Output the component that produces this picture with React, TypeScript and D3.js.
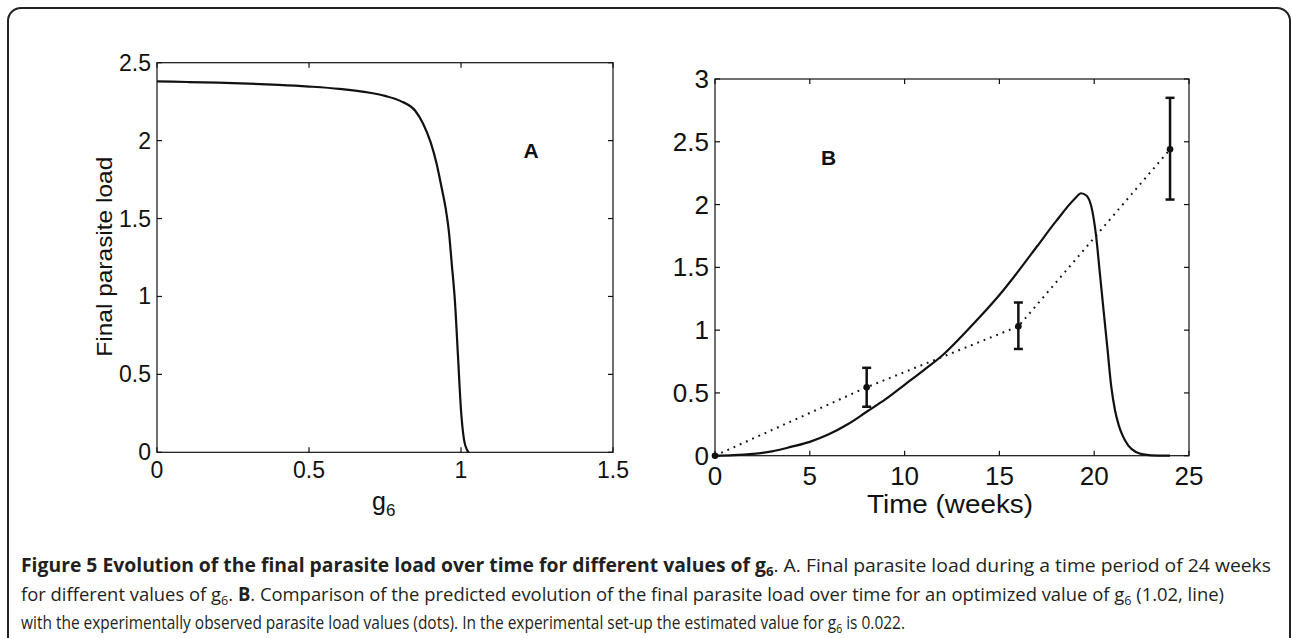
import React from "react";
import * as d3 from "d3";

// ---- Panel A data ----
const gValues = [0, 0.1, 0.2, 0.3, 0.4, 0.5, 0.6, 0.7, 0.75, 0.8, 0.85, 0.875, 0.9, 0.92, 0.935, 0.95, 0.96, 0.97, 0.98, 0.99, 1.0, 1.01, 1.02, 1.025];
const loadA = [2.38, 2.376, 2.372, 2.366, 2.358, 2.347, 2.332, 2.307, 2.287, 2.255, 2.19, 2.11, 1.99, 1.85, 1.71, 1.56, 1.42, 1.2, 0.97, 0.62, 0.27, 0.08, 0.015, 0];
const xTicksA = [0, 0.5, 1, 1.5];
const yTicksA = [0, 0.5, 1, 1.5, 2, 2.5];

// ---- Panel B data ----
const timeWeeks = [0, 1, 2, 3, 4, 5, 6, 7, 8, 9, 10, 11, 12, 13, 14, 15, 16, 17, 18, 19, 19.3, 19.6, 19.9, 20.1, 20.3, 20.5, 20.7, 20.9, 21.1, 21.3, 21.5, 21.8, 22.2, 22.6, 23, 24];
const loadB = [0, 0.004, 0.015, 0.035, 0.07, 0.11, 0.17, 0.25, 0.35, 0.45, 0.565, 0.68, 0.8, 0.95, 1.11, 1.28, 1.47, 1.67, 1.87, 2.05, 2.09, 2.07, 1.95, 1.75, 1.45, 1.15, 0.85, 0.55, 0.36, 0.24, 0.16, 0.08, 0.03, 0.01, 0.003, 0];
const obsWeeks = [0, 8, 16, 24];
const obsLoad = [0, 0.545, 1.03, 2.44];
const obsLow = [0, 0.39, 0.85, 2.04];
const obsHigh = [0, 0.70, 1.22, 2.85];
const xTicksB = [0, 5, 10, 15, 20, 25];
const yTicksB = [0, 0.5, 1, 1.5, 2, 2.5, 3];

const FONT = "'Liberation Sans', Arial, Helvetica, sans-serif";
const CAP = "'Liberation Sans Narrow', 'Open Sans', 'Noto Sans', sans-serif";
const INK = "#111";

export default function App() {
  const xA = d3.scaleLinear().domain([0, 1.5]).range([157, 613]);
  const yA = d3.scaleLinear().domain([0, 2.5]).range([452.3, 62.7]);
  const xB = d3.scaleLinear().domain([0, 25]).range([715, 1189]);
  const yB = d3.scaleLinear().domain([0, 3]).range([455.7, 79]);

  const lineA = d3
    .line<number>()
    .x((_, i) => xA(gValues[i]))
    .y((d) => yA(d))
    .curve(d3.curveMonotoneX);
  const lineB = d3
    .line<number>()
    .x((_, i) => xB(timeWeeks[i]))
    .y((d) => yB(d))
    .curve(d3.curveMonotoneX);
  const lineObs = d3
    .line<number>()
    .x((_, i) => xB(obsWeeks[i]))
    .y((d) => yB(d));

  const tl = 5;

  const frameAxes = (
    x: d3.ScaleLinear<number, number>,
    y: d3.ScaleLinear<number, number>,
    xt: number[],
    yt: number[]
  ) => {
    const [x0, x1] = x.range();
    const [y0, y1] = y.range();
    return (
      <g stroke={INK} strokeWidth={1.2} fill="none">
        <rect x={x0} y={y1} width={x1 - x0} height={y0 - y1} />
        {xt.map((t) => (
          <g key={"x" + t}>
            <line x1={x(t)} x2={x(t)} y1={y0} y2={y0 - tl} />
            <line x1={x(t)} x2={x(t)} y1={y1} y2={y1 + tl} />
          </g>
        ))}
        {yt.map((t) => (
          <g key={"y" + t}>
            <line x1={x0} x2={x0 + tl} y1={y(t)} y2={y(t)} />
            <line x1={x1} x2={x1 - tl} y1={y(t)} y2={y(t)} />
          </g>
        ))}
      </g>
    );
  };

  return (
    <svg
      width={1292}
      height={638}
      style={{ position: "absolute", left: 0, top: 0, background: "#fff" }}
    >
      <rect x={0} y={0} width={1292} height={638} fill="#fff" />
      <rect x={8} y={8} width={1282} height={720} rx={13} ry={13} fill="none" stroke="#222" strokeWidth={2} />

      {/* ---------- Panel A ---------- */}
      {frameAxes(xA, yA, xTicksA, yTicksA)}
      <path d={lineA(loadA) || ""} fill="none" stroke={INK} strokeWidth={2.2} />
      <g fontFamily={FONT} fontSize={23} fill={INK}>
        {yTicksA.map((t) => (
          <text key={t} x={151} y={yA(t) + 8} textAnchor="end">
            {String(t)}
          </text>
        ))}
        {xTicksA.map((t) => (
          <text key={t} x={xA(t)} y={478} textAnchor="middle">
            {String(t)}
          </text>
        ))}
      </g>
      <text
        fontFamily={FONT}
        fontSize={22}
        fill={INK}
        textAnchor="middle"
        transform="translate(112,256.7) rotate(-90)"
        textLength={200}
        lengthAdjust="spacingAndGlyphs"
      >
        Final parasite load
      </text>
      <text fontFamily={FONT} fontSize={25} fill={INK} x={372} y={510}>
        g<tspan fontSize={17} dy={6}>6</tspan>
      </text>
      <text fontFamily={FONT} fontWeight="bold" fontSize={21} fill={INK} x={531} y={158} textAnchor="middle">
        A
      </text>

      {/* ---------- Panel B ---------- */}
      {frameAxes(xB, yB, xTicksB, yTicksB)}
      <path
        d={lineObs(obsLoad) || ""}
        fill="none"
        stroke={INK}
        strokeWidth={2}
        strokeDasharray="1.8 5"
      />
      <path d={lineB(loadB) || ""} fill="none" stroke={INK} strokeWidth={2.2} />
      {obsWeeks.map((w, i) =>
        i === 0 ? null : (
          <g key={w} stroke={INK} strokeWidth={2.5}>
            <line x1={xB(w)} x2={xB(w)} y1={yB(obsLow[i])} y2={yB(obsHigh[i])} />
            <line x1={xB(w) - 4.5} x2={xB(w) + 4.5} y1={yB(obsLow[i])} y2={yB(obsLow[i])} />
            <line x1={xB(w) - 4.5} x2={xB(w) + 4.5} y1={yB(obsHigh[i])} y2={yB(obsHigh[i])} />
          </g>
        )
      )}
      {obsWeeks.map((w, i) => (
        <circle key={"m" + w} cx={xB(w)} cy={yB(obsLoad[i])} r={3.3} fill={INK} />
      ))}
      <g fontFamily={FONT} fontSize={26} fill={INK}>
        {yTicksB.map((t) => (
          <text key={t} x={709} y={yB(t) + 9} textAnchor="end">
            {String(t)}
          </text>
        ))}
        {xTicksB.map((t) => (
          <text key={t} x={xB(t)} y={485} textAnchor="middle">
            {String(t)}
          </text>
        ))}
      </g>
      <text
        fontFamily={FONT}
        fontSize={25}
        fill={INK}
        x={950}
        y={513}
        textAnchor="middle"
        textLength={166}
        lengthAdjust="spacingAndGlyphs"
      >
        Time (weeks)
      </text>
      <text fontFamily={FONT} fontWeight="bold" fontSize={21} fill={INK} x={828.5} y={165} textAnchor="middle">
        B
      </text>

      {/* ---------- Caption ---------- */}
      <g fontFamily={CAP} fontSize={19} fill="#231f20">
        <text x={21} y={572} textLength={1250} lengthAdjust="spacingAndGlyphs">
          <tspan fontWeight="bold">Figure 5 Evolution of the final parasite load over time for different values of g</tspan>
          <tspan fontWeight="bold" fontSize={13} dy={4}>6</tspan>
          <tspan dy={-4}>. A. Final parasite load during a time period of 24 weeks</tspan>
        </text>
        <text x={21} y={601} textLength={1203} lengthAdjust="spacingAndGlyphs">
          <tspan>for different values of g</tspan>
          <tspan fontSize={13} dy={4}>6</tspan>
          <tspan dy={-4}>. </tspan>
          <tspan fontWeight="bold">B</tspan>
          <tspan>. Comparison of the predicted evolution of the final parasite load over time for an optimized value of g</tspan>
          <tspan fontSize={13} dy={4}>6</tspan>
          <tspan dy={-4}> (1.02, line)</tspan>
        </text>
        <text x={21} y={629} textLength={884} lengthAdjust="spacingAndGlyphs">
          <tspan>with the experimentally observed parasite load values (dots). In the experimental set-up the estimated value for g</tspan>
          <tspan fontSize={13} dy={4}>6</tspan>
          <tspan dy={-4}> is 0.022.</tspan>
        </text>
      </g>
    </svg>
  );
}
